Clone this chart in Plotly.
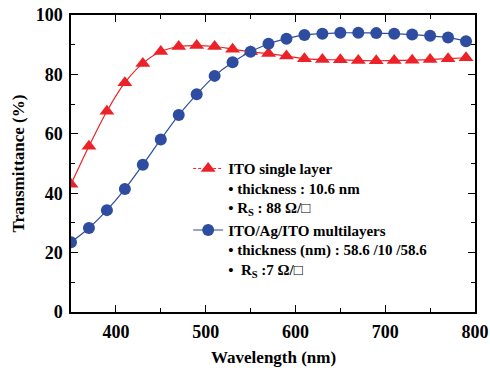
import plotly.graph_objects as go

wavelength = [350, 370, 390, 410, 430, 450, 470, 490, 510, 530, 550, 570,
              590, 610, 630, 650, 670, 690, 710, 730, 750, 770, 790]
ito_single = [43.0, 55.8, 67.6, 77.2, 83.7, 87.7, 89.4, 89.7, 89.4, 88.5, 87.6, 87.0,
              86.2, 85.3, 85.0, 84.9, 84.7, 84.6, 84.7, 84.8, 85.0, 85.3, 85.6]
ito_ag_ito = [23.5, 28.3, 34.3, 41.4, 49.6, 58.1, 66.3, 73.3, 79.5, 84.1, 87.6, 90.3,
              92.0, 93.3, 93.7, 94.0, 94.0, 93.9, 93.7, 93.4, 93.0, 92.4, 91.2]

x_title = "Wavelength (nm)"
y_title = "Transmittance (%)"
name_single = "ITO single layer<br>• thickness : 10.6 nm<br>• R<sub>S</sub> : 88 Ω/□"
name_multi = "ITO/Ag/ITO multilayers<br>• thickness (nm) : 58.6 /10 /58.6<br>•  R<sub>S</sub> :7 Ω/□"

RED = "#ec2228"
BLUE = "#2e4da0"
FONT = "Liberation Serif"

fig = go.Figure()
fig.add_trace(go.Scatter(x=wavelength, y=ito_single, mode="lines+markers",
                         line=dict(color=RED, width=1.2, shape="spline"),
                         marker=dict(symbol="triangle-up", size=13, color=RED),
                         showlegend=False, cliponaxis=True))
fig.add_trace(go.Scatter(x=wavelength, y=ito_ag_ito, mode="lines+markers",
                         line=dict(color=BLUE, width=1.2, shape="spline"),
                         marker=dict(symbol="circle", size=12, color=BLUE),
                         showlegend=False, cliponaxis=True))
# legend proxies
fig.add_trace(go.Scatter(x=[None], y=[None], mode="lines+markers", name=name_single,
                         line=dict(color=RED, width=1, dash="3px,2px"),
                         marker=dict(symbol="triangle-up", size=13, color=RED)))
fig.add_trace(go.Scatter(x=[None], y=[None], mode="lines+markers", name=name_multi,
                         line=dict(color="#6f86c4", width=1.5),
                         marker=dict(symbol="circle", size=12, color=BLUE)))

axis_common = dict(showline=True, linecolor="black", linewidth=1.5, mirror="allticks",
                   ticks="inside", ticklen=7, tickwidth=1.2, tickcolor="black",
                   showgrid=False, zeroline=False, automargin=False,
                   ticklabelstandoff=3,
                   tickfont=dict(family=FONT, size=18, color="black", weight="bold"))

fig.update_xaxes(range=[350, 800], tickvals=[400, 500, 600, 700, 800],
                 minor=dict(ticks="inside", ticklen=4, tickwidth=1.2, tickcolor="black",
                            tickvals=[450, 550, 650, 750]),
                 **axis_common)
fig.update_yaxes(range=[0, 100], tickvals=[0, 20, 40, 60, 80, 100],
                 minor=dict(ticks="inside", ticklen=4, tickwidth=1.2, tickcolor="black",
                            tickvals=[10, 30, 50, 70, 90]),
                 **axis_common)

title_font = dict(family=FONT, size=17, color="black", weight="bold")
fig.add_annotation(text=x_title, xref="paper", yref="paper", x=0.5, y=-0.152,
                   xanchor="center", yanchor="middle", showarrow=False, font=title_font)
fig.add_annotation(text=y_title, xref="paper", yref="paper", x=-0.131, y=0.5,
                   xanchor="center", yanchor="middle", textangle=-90,
                   showarrow=False, font=title_font)

fig.update_layout(
    width=490, height=373,
    margin=dict(l=71, r=15, t=15, b=61),
    paper_bgcolor="white", plot_bgcolor="white",
    font=dict(family=FONT, color="black"),
    legend=dict(x=0.29, y=0.538, xanchor="left", yanchor="top",
                bgcolor="rgba(0,0,0,0)", valign="top",
                font=dict(family=FONT, size=15, color="black", weight="bold"),
                tracegroupgap=10),
)

fig.write_html("out.html")
